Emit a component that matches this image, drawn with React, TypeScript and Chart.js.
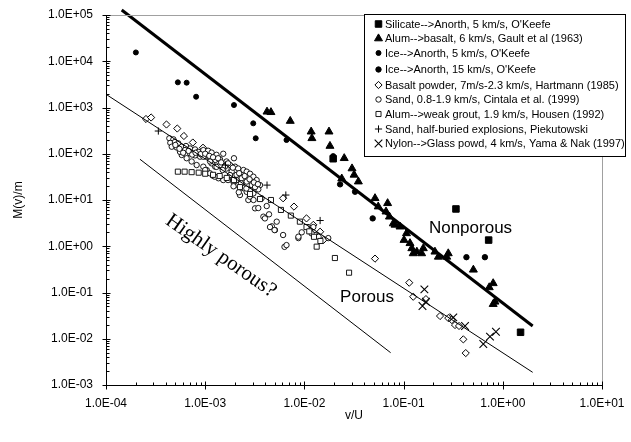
import React, { useEffect, useRef } from 'react';
import { Chart, registerables } from 'chart.js';

Chart.register(...registerables);

type Pt = [number, number];

// ---------- axis ticks & titles ----------
const xTickValues = [1e-4, 1e-3, 1e-2, 1e-1, 1, 10];
const xTickLabels = ['1.0E-04', '1.0E-03', '1.0E-02', '1.0E-01', '1.0E+00', '1.0E+01'];
const yTickValues = [1e-3, 1e-2, 1e-1, 1, 10, 100, 1e3, 1e4, 1e5];
const yTickLabels = ['1.0E-03', '1.0E-02', '1.0E-01', '1.0E+00', '1.0E+01', '1.0E+02', '1.0E+03', '1.0E+04', '1.0E+05'];
const xAxisTitle = 'v/U';
const yAxisTitle = 'M(v)/m';

// ---------- series ----------
const seriesNames = [
  "Silicate-->Anorth, 5 km/s, O'Keefe",
  'Alum-->basalt, 6 km/s, Gault et al (1963)',
  "Ice-->Anorth, 5 km/s, O'Keefe",
  "Ice-->Anorth, 15 km/s, O'Keefe",
  'Basalt powder, 7m/s-2.3 km/s, Hartmann (1985)',
  'Sand, 0.8-1.9 km/s, Cintala et al. (1999)',
  'Alum-->weak grout, 1.9 km/s, Housen (1992)',
  'Sand, half-buried explosions, Piekutowski',
  'Nylon-->Glass powd, 4 km/s, Yama & Nak (1997)',
];

const silicate: Pt[] = [[0.0195, 78], [0.337, 6.4], [0.72, 1.36], [1.51, 0.0138]];

const alumBasalt: Pt[] = [
  [4.2e-3, 810], [4.6e-3, 790], [7.2e-3, 510], [0.0117, 300], [0.0119, 216], [0.0177, 300],
  [0.0181, 147], [0.0252, 80], [0.0302, 48], [0.0317, 35], [0.035, 25], [0.0238, 29],
  [0.0515, 10.9], [0.069, 8.5], [0.0555, 7.2], [0.0665, 5.6], [0.072, 4.35], [0.0787, 3.1],
  [0.082, 2.9], [0.092, 2.65], [0.107, 1.9], [0.101, 1.36], [0.116, 1.16], [0.121, 0.9],
  [0.125, 0.7], [0.136, 0.76], [0.152, 0.7], [0.158, 0.9], [0.207, 0.76], [0.224, 0.59],
  [0.272, 0.59], [0.282, 0.7], [0.505, 0.31], [0.8, 0.158], [0.73, 0.129], [0.834, 0.063],
  [0.8, 0.056],
];

const ice5: Pt[] = [
  [2.0e-4, 15500], [5.3e-4, 3500], [6.5e-4, 3440], [8.1e-4, 1710], [1.95e-3, 1130],
  [3.05e-3, 455], [3.23e-3, 216], [6.6e-3, 198],
];

const ice15: Pt[] = [
  [0.0195, 88], [0.0229, 21.8], [0.0324, 15.1], [0.0488, 4.0], [0.43, 0.58], [0.66, 0.58],
];

const basaltPowder: Pt[] = [
  [2.53e-4, 564], [2.85e-4, 608], [4.07e-4, 429], [5.23e-4, 351], [6.1e-4, 242], [7.5e-4, 175],
  [9.5e-4, 135], [6.1e-3, 10.9], [7.85e-3, 7.2], [0.0105, 4.0], [0.0123, 2.9], [0.0144, 2.06],
  [0.0155, 1.36], [0.0515, 0.54], [0.114, 0.163], [0.125, 0.081], [0.168, 0.072], [0.233, 0.031],
  [0.282, 0.028], [0.306, 0.0254], [0.33, 0.0198], [0.362, 0.0189], [0.4, 0.0097], [0.423, 0.0049],
];

const sandCintala: Pt[] = [
  [4.35e-4, 216], [4.78e-4, 205], [4.45e-4, 172], [4.95e-4, 180], [5.35e-4, 168], [4.6e-4, 142],
  [5.15e-4, 137], [5.8e-4, 142], [6.4e-4, 147], [6.25e-4, 120], [7.03e-4, 130], [7.9e-4, 124],
  [7.03e-4, 102], [8.5e-4, 110], [9.57e-4, 120], [1.07e-3, 116], [1.16e-3, 106], [1.52e-3, 100],
  [1.3e-3, 95], [7.9e-4, 92], [8.87e-4, 86.5], [9.9e-4, 89], [1.117e-3, 80], [1.26e-3, 73.3],
  [1.41e-3, 76], [1.95e-3, 80], [1.64e-3, 68], [1.78e-3, 57], [2.0e-3, 52.6], [2.15e-3, 48],
  [2.43e-3, 44.5], [2.62e-3, 41], [2.83e-3, 37], [3.06e-3, 31.9], [3.3e-3, 27], [3.57e-3, 21],
  [3.43e-3, 17], [3.06e-3, 13.9], [2.72e-3, 10], [3.18e-3, 6.6], [3.7e-3, 10.9], [4.17e-3, 7.4],
  [3.86e-3, 4.36], [4.4e-3, 4.9], [4.7e-3, 2.7], [5.05e-3, 2.24], [5.26e-3, 3.4], [9.57e-4, 52.6],
  [1.035e-3, 44.5], [1.117e-3, 37.7], [1.21e-3, 33], [1.36e-3, 29.5], [1.52e-3, 27], [1.7e-3, 27],
  [1.92e-3, 25], [2.15e-3, 21], [2.43e-3, 18], [2.62e-3, 15], [2.24e-3, 12.8], [2.83e-3, 11.8],
  [8.2e-4, 57], [7.3e-4, 68], [6.5e-4, 80], [5.8e-4, 94], [5.57e-4, 110], [1.64e-3, 48],
  [1.85e-3, 41], [2.07e-3, 35], [2.33e-3, 29.5], [2.62e-3, 25], [2.95e-3, 21], [3.18e-3, 19],
  [1.41e-3, 57], [1.58e-3, 52.6], [1.16e-3, 62], [1.26e-3, 52.6], [2.83e-3, 16.4], [3.07e-3, 10],
  [3.43e-3, 6.7], [4.0e-3, 4.0], [4.5e-3, 2.6], [5.0e-3, 2.24], [6.1e-3, 1.75], [6.3e-3, 0.97],
  [8.7e-3, 1.5], [9.4e-3, 2.0], [0.0114, 2.24], [0.0128, 1.75], [0.0139, 1.6], [0.0174, 1.5],
  [0.0123, 2.6], [9.6e-4, 86], [1.12e-3, 68], [1.3e-3, 52], [1.5e-3, 44.5], [1.0e-3, 44.5],
  [1.25e-3, 32], [1.78e-3, 34.7], [2.07e-3, 27], [2.3e-3, 23], [2.6e-3, 17.7], [1.93e-3, 19.8],
  [2.18e-3, 14.7], [6.6e-3, 1.06], [8.7e-3, 1.61], [0.0118, 1.9],
  [5.0e-4, 155], [5.5e-4, 128], [6.0e-4, 105], [6.8e-4, 115], [7.4e-4, 96], [8.0e-4, 105],
  [9.0e-4, 98], [1.0e-3, 100], [1.1e-3, 90], [1.2e-3, 84], [1.35e-3, 80], [1.45e-3, 65],
  [1.7e-3, 62], [1.9e-3, 50], [2.2e-3, 38], [2.5e-3, 33], [2.8e-3, 28], [3.1e-3, 24], [3.4e-3, 22],
];

const housen: Pt[] = [
  [5.3e-4, 41], [6.2e-4, 41], [7.3e-4, 40], [8.6e-4, 39], [1.0e-3, 37], [1.2e-3, 35],
  [1.4e-3, 33], [1.65e-3, 30], [1.95e-3, 27], [2.24e-3, 19], [2.83e-3, 13.5], [3.57e-3, 10.5],
  [4.6e-3, 10], [5.8e-3, 6.1], [7.3e-3, 4.6], [9.0e-3, 3.4], [0.0105, 2.6], [0.0112, 2.1],
  [0.0125, 1.6], [0.0133, 0.98], [0.0145, 1.3], [0.0203, 0.557], [0.0282, 0.268],
];

const piekutowski: Pt[] = [[3.37e-4, 310], [1.6e-3, 57], [4.2e-3, 21], [6.5e-3, 12.8], [0.0144, 3.6]];

const nylonGlass: Pt[] = [
  [0.162, 0.117], [0.155, 0.051], [0.168, 0.063], [0.317, 0.029], [0.416, 0.0189],
  [0.636, 0.0077], [0.743, 0.0111], [0.853, 0.0142],
];

// ---------- fitted lines ----------
const nonporousLine: Pt[] = [[1.44e-4, 1.28e5], [2.0, 0.0189]];
const porousLine: Pt[] = [[1e-4, 1930], [2.0, 0.00188]];
const highlyPorousLine: Pt[] = [[2.2e-4, 76], [0.074, 0.005]];

// ---------- annotations ----------
const annotationTexts = ['Nonporous', 'Porous', 'Highly porous?'];
const annotationAnchors: Pt[] = [[0.18, 1.93], [0.0229, 0.0624], [1.44e-3, 0.615]];

const SANS = "Arial, 'Liberation Sans', Helvetica, sans-serif";
const SERIF = "'Times New Roman', 'Liberation Serif', Times, serif";

type Style = { shape: string; r: number; fill: string; stroke: string; lw: number };
const seriesStyles: Style[] = [
  { shape: 'rect', r: 4.6, fill: '#000', stroke: '#000', lw: 1 },
  { shape: 'triangle', r: 4.6, fill: '#000', stroke: '#000', lw: 1 },
  { shape: 'circle', r: 2.5, fill: '#000', stroke: '#000', lw: 1 },
  { shape: 'circle', r: 2.7, fill: '#000', stroke: '#000', lw: 1 },
  { shape: 'rectRot', r: 3.6, fill: '#fff', stroke: '#000', lw: 1 },
  { shape: 'circle', r: 2.7, fill: '#fff', stroke: '#000', lw: 0.9 },
  { shape: 'rect', r: 3.6, fill: '#fff', stroke: '#000', lw: 0.9 },
  { shape: 'cross', r: 3.6, fill: '#000', stroke: '#000', lw: 1 },
  { shape: 'crossRot', r: 5.4, fill: '#000', stroke: '#000', lw: 1.1 },
];
const seriesData: Pt[][] = [silicate, alumBasalt, ice5, ice15, basaltPowder, sandCintala, housen, piekutowski, nylonGlass];

function drawMarker(ctx: CanvasRenderingContext2D, st: Style, x: number, y: number) {
  const r = st.r;
  ctx.beginPath();
  switch (st.shape) {
    case 'rect': {
      const s = r * Math.SQRT1_2;
      ctx.rect(x - s, y - s, 2 * s, 2 * s);
      break;
    }
    case 'triangle': {
      ctx.moveTo(x, y - r);
      ctx.lineTo(x + 0.866 * r, y + 0.5 * r);
      ctx.lineTo(x - 0.866 * r, y + 0.5 * r);
      ctx.closePath();
      break;
    }
    case 'circle':
      ctx.arc(x, y, r, 0, Math.PI * 2);
      break;
    case 'rectRot':
      ctx.moveTo(x - r, y);
      ctx.lineTo(x, y - r);
      ctx.lineTo(x + r, y);
      ctx.lineTo(x, y + r);
      ctx.closePath();
      break;
    case 'cross':
      ctx.moveTo(x, y - r);
      ctx.lineTo(x, y + r);
      ctx.moveTo(x - r, y);
      ctx.lineTo(x + r, y);
      break;
    case 'crossRot': {
      const d = r * Math.SQRT1_2;
      ctx.moveTo(x - d, y - d);
      ctx.lineTo(x + d, y + d);
      ctx.moveTo(x + d, y - d);
      ctx.lineTo(x - d, y + d);
      break;
    }
  }
  ctx.lineWidth = st.lw;
  ctx.strokeStyle = st.stroke;
  if (st.shape !== 'cross' && st.shape !== 'crossRot') {
    ctx.fillStyle = st.fill;
    ctx.fill();
  }
  ctx.stroke();
}

const legendRows = [24, 38.5, 53, 69.5, 85, 99.5, 114, 129, 143.5];

const decorPlugin = {
  id: 'decor',
  afterDatasetsDraw(chart: any) {
    const { ctx, chartArea: a, scales } = chart;
    const xs = scales.x;
    const ys = scales.y;
    const L = Math.round(a.left) + 0.5;
    const R = Math.round(a.right) + 0.5;
    const T = Math.round(a.top) + 0.5;
    const B = Math.round(a.bottom) + 0.5;
    ctx.save();
    // top & right frame
    ctx.strokeStyle = '#a0a0a0';
    ctx.lineWidth = 1;
    ctx.beginPath();
    ctx.moveTo(L, T);
    ctx.lineTo(R, T);
    ctx.lineTo(R, B);
    ctx.stroke();
    // axes
    ctx.strokeStyle = '#000';
    ctx.beginPath();
    ctx.moveTo(L, T);
    ctx.lineTo(L, B);
    ctx.lineTo(R, B);
    ctx.stroke();
    // ticks
    ctx.beginPath();
    xTickValues.forEach((v, i) => {
      const px = Math.round(xs.getPixelForValue(v)) + 0.5;
      ctx.moveTo(px, B - 4);
      ctx.lineTo(px, B + 4);
      if (i < xTickValues.length - 1) {
        for (let m = 2; m <= 9; m++) {
          const mx = Math.round(xs.getPixelForValue(v * m)) + 0.5;
          ctx.moveTo(mx, B);
          ctx.lineTo(mx, B - 3);
        }
      }
    });
    yTickValues.forEach((v, i) => {
      const py = Math.round(ys.getPixelForValue(v)) + 0.5;
      ctx.moveTo(L - 4, py);
      ctx.lineTo(L + 4, py);
      if (i < yTickValues.length - 1) {
        for (let m = 2; m <= 9; m++) {
          const my = Math.round(ys.getPixelForValue(v * m)) + 0.5;
          ctx.moveTo(L, my);
          ctx.lineTo(L + 3, my);
        }
      }
    });
    ctx.stroke();

    // annotations
    ctx.fillStyle = '#000';
    ctx.textAlign = 'left';
    ctx.textBaseline = 'alphabetic';
    ctx.font = `17px ${SANS}`;
    for (let i = 0; i < 2; i++) {
      const [ax, ay] = annotationAnchors[i];
      ctx.fillText(annotationTexts[i], xs.getPixelForValue(ax), ys.getPixelForValue(ay));
    }
    {
      const [ax, ay] = annotationAnchors[2];
      ctx.save();
      ctx.translate(xs.getPixelForValue(ax), ys.getPixelForValue(ay));
      ctx.rotate((35 * Math.PI) / 180);
      ctx.font = `21px ${SERIF}`;
      ctx.textAlign = 'center';
      ctx.textBaseline = 'middle';
      ctx.fillText(annotationTexts[2], 0, 0);
      ctx.restore();
    }

    // legend
    const lx = 364.5, ly = 14.5, lw = 261, lh = 142;
    ctx.fillStyle = '#fff';
    ctx.fillRect(lx, ly, lw, lh);
    ctx.strokeStyle = '#000';
    ctx.lineWidth = 1;
    ctx.strokeRect(lx, ly, lw, lh);
    ctx.font = `11px ${SANS}`;
    ctx.textBaseline = 'middle';
    ctx.textAlign = 'left';
    seriesNames.forEach((name, i) => {
      const y = legendRows[i];
      drawMarker(ctx, seriesStyles[i], 378.5, y);
      ctx.fillStyle = '#000';
      ctx.fillText(name, 385, y + 0.5);
    });
    ctx.restore();
  },
};

export default function App() {
  const ref = useRef<HTMLCanvasElement | null>(null);
  useEffect(() => {
    if (!ref.current) return;
    const n = seriesData.length;
    const datasets: any[] = seriesData.map((d, i) => {
      const st = seriesStyles[i];
      return {
        label: seriesNames[i],
        data: d.map(([x, y]) => ({ x, y })),
        showLine: false,
        pointStyle: st.shape,
        pointRadius: st.r,
        pointHoverRadius: st.r,
        pointBackgroundColor: st.fill,
        pointBorderColor: st.stroke,
        pointBorderWidth: st.lw,
        order: -i,
      };
    });
    const lineSets: [Pt[], number, boolean][] = [
      [nonporousLine, 3, false],
      [porousLine, 1, true],
      [highlyPorousLine, 1, true],
    ];
    lineSets.forEach(([d, w, clip], k) => {
      datasets.push({
        label: 'fit' + k,
        data: d.map(([x, y]) => ({ x, y })),
        showLine: true,
        borderColor: '#000',
        borderWidth: w,
        pointRadius: 0,
        pointHoverRadius: 0,
        fill: false,
        clip: clip ? undefined : false,
        order: -n - k,
      });
    });

    const chart = new Chart(ref.current, {
      type: 'scatter',
      data: { datasets },
      options: {
        responsive: false,
        animation: false,
        devicePixelRatio: 1,
        events: [],
        layout: { padding: { left: 0, right: 29, top: 15, bottom: 0 } },
        plugins: { legend: { display: false }, tooltip: { enabled: false } },
        scales: {
          x: {
            type: 'logarithmic',
            min: 1e-4,
            max: 10,
            afterBuildTicks: (s: any) => {
              s.ticks = xTickValues.map((v) => ({ value: v }));
            },
            afterFit: (s: any) => {
              s.height = 57;
            },
            ticks: {
              autoSkip: false,
              maxRotation: 0,
              padding: 3,
              color: '#000',
              font: { family: SANS, size: 12 },
              callback: (_v: any, i: number) => xTickLabels[i],
            },
            grid: { display: false },
            border: { display: false },
            title: {
              display: true,
              text: xAxisTitle,
              color: '#000',
              font: { family: SANS, size: 12 },
              padding: { top: 0, bottom: 18.8 },
            },
          },
          y: {
            type: 'logarithmic',
            min: 1e-3,
            max: 1e5,
            afterBuildTicks: (s: any) => {
              s.ticks = yTickValues.map((v) => ({ value: v }));
            },
            afterFit: (s: any) => {
              s.width = 106;
            },
            ticks: {
              autoSkip: false,
              padding: 5,
              color: '#000',
              font: { family: SANS, size: 12 },
              callback: (_v: any, i: number) => yTickLabels[i],
            },
            grid: { display: false },
            border: { display: false },
            title: {
              display: true,
              text: yAxisTitle,
              color: '#000',
              font: { family: SANS, size: 12 },
              padding: { top: 11.8, bottom: 0 },
            },
          },
        },
      } as any,
      plugins: [decorPlugin],
    });
    return () => chart.destroy();
  }, []);

  return (
    <div style={{ position: 'fixed', left: 0, top: 0, width: 631, height: 442, background: '#fff' }}>
      <canvas ref={ref} width={631} height={442} style={{ display: 'block' }} />
    </div>
  );
}
